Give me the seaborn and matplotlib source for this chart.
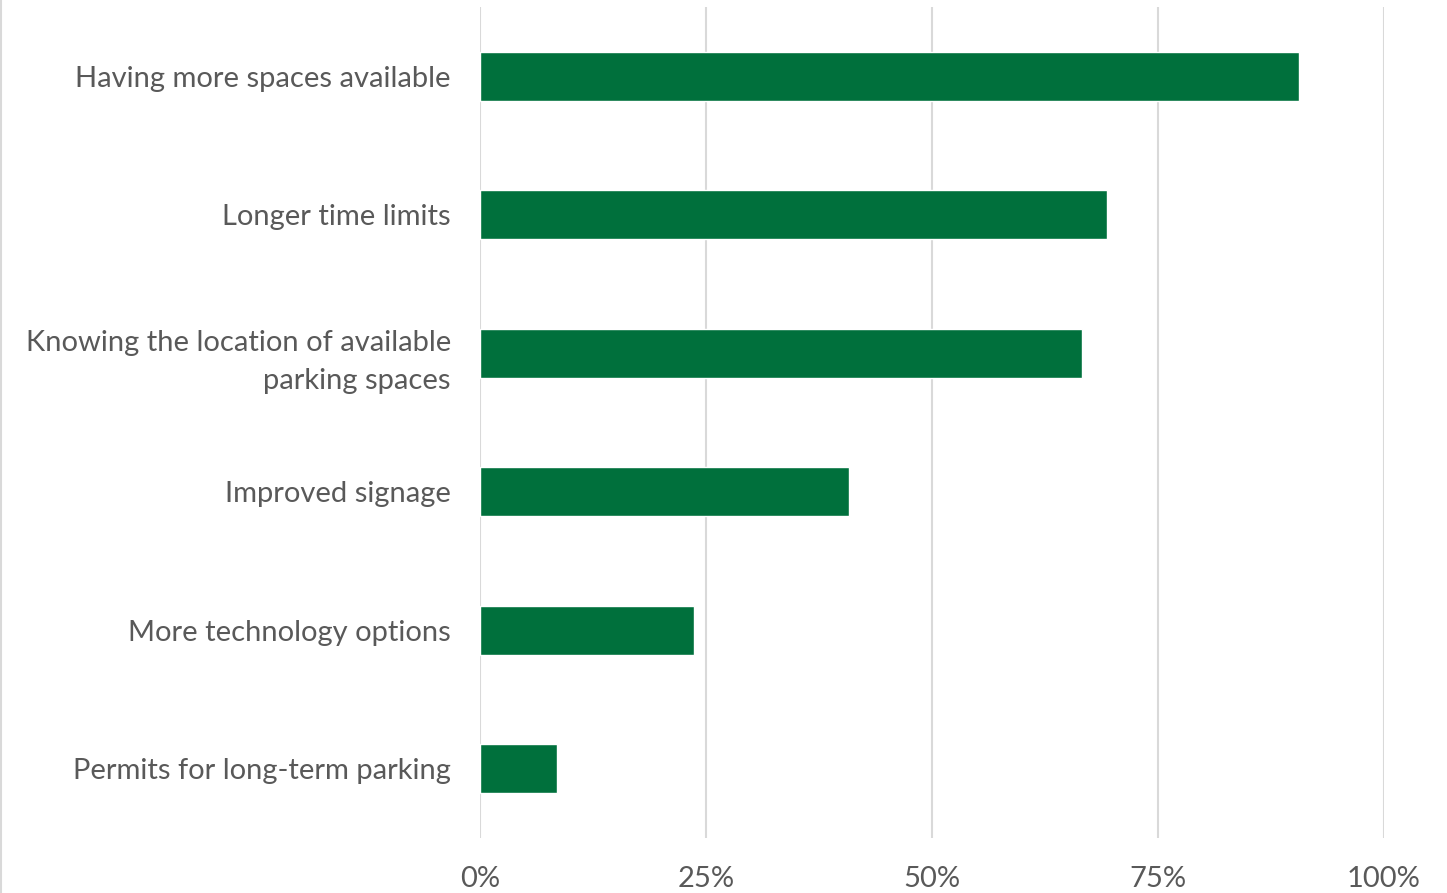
import matplotlib
matplotlib.use("Agg")
import matplotlib.pyplot as plt
import seaborn as sns
import pandas as pd
from matplotlib.ticker import PercentFormatter
from matplotlib.lines import Line2D

categories = [
    "Having more spaces available",
    "Longer time limits",
    "Knowing the location of available\nparking spaces",
    "Improved signage",
    "More technology options",
    "Permits for long-term parking",
]
shares = [90.6, 69.3, 66.6, 40.8, 23.7, 8.5]
ticks = [0, 25, 50, 75, 100]

df = pd.DataFrame({"category": categories, "share": shares})

sns.set_theme(style="white")
plt.rcParams["font.family"] = ["Lato", "DejaVu Sans"]

fig = plt.figure(figsize=(14.47, 8.93), dpi=100)
ax = fig.add_axes([0.3317, 0.0616, 0.6248, 0.9306])

sns.barplot(data=df, x="share", y="category", color="#00703C", saturation=1,
            width=0.355, ax=ax)

ax.set_xlim(0, 100)
ax.set_ylim(5.5, -0.5)
ax.set_xticks(ticks)
ax.xaxis.set_major_formatter(PercentFormatter(decimals=0))
ax.grid(axis="x", color="#d9d9d9", linewidth=1.5)
ax.set_axisbelow(True)
for s in ax.spines.values():
    s.set_visible(False)
ax.set_xlabel("")
ax.set_ylabel("")
ax.tick_params(axis="x", length=0, pad=20, labelsize=21, labelcolor="#595959")
ax.tick_params(axis="y", length=0, pad=21, labelsize=21, labelcolor="#595959")
for lab in ax.get_yticklabels():
    lab.set_horizontalalignment("right")
    lab.set_multialignment("right")
    lab.set_linespacing(1.6)

# thin frame line at the left edge of the image
fig.add_artist(Line2D([0.0008, 0.0008], [0, 1], color="#d9d9d9", linewidth=1.5,
                      transform=fig.transFigure))

fig.savefig("out.png", dpi=100)
